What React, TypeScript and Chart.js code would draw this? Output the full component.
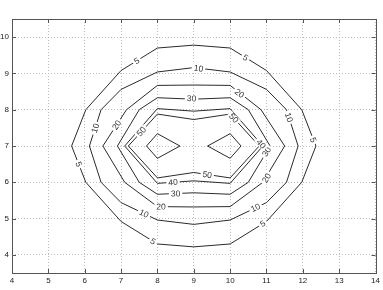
import React, { useEffect, useRef } from "react";
import { Chart, registerables } from "chart.js";

Chart.register(...registerables);

const xTicks = [4, 5, 6, 7, 8, 9, 10, 11, 12, 13, 14];
const yTicks = [4, 5, 6, 7, 8, 9, 10];

// contour polylines (closed)
const c5x = [8, 9, 10, 11, 11.97, 12.36, 11.97, 11, 10, 9, 8, 7, 6.03, 5.64, 6.03, 7, 8];
const c5y = [9.7, 9.78, 9.7, 9.08, 8, 7, 6, 4.92, 4.3, 4.22, 4.3, 4.92, 6, 7, 8, 9.08, 9.7];

const c10x = [8, 9, 10, 11, 11.55, 11.87, 11.55, 11, 10, 9, 8, 7, 6.45, 6.13, 6.45, 7, 8];
const c10y = [9.04, 9.16, 9.04, 8.56, 8, 7, 6, 5.44, 4.96, 4.84, 4.96, 5.44, 6, 7, 8, 8.56, 9.04];

const c20x = [8, 9, 10, 10.85, 11.5, 10.9, 10, 9, 8, 7.1, 6.5, 7.15, 8];
const c20y = [8.67, 8.68, 8.67, 8, 7, 6, 5.33, 5.32, 5.33, 6, 7, 8, 8.67];

const c30x = [8, 9, 10, 10.5, 11.1, 10.5, 10, 9, 8, 7.5, 6.9, 7.5, 8];
const c30y = [8.33, 8.29, 8.33, 8, 7, 6, 5.67, 5.71, 5.67, 6, 7, 8, 8.33];

const c40x = [8, 9, 10, 10.9, 10, 9, 8, 7.1, 8];
const c40y = [8.03, 7.96, 8.03, 7, 5.97, 6.04, 5.97, 7, 8.03];

const c50x = [8, 9, 10, 10.8, 10, 9, 8, 7.2, 8];
const c50y = [7.88, 7.73, 7.88, 7, 6.12, 6.27, 6.12, 7, 7.88];

const c60ax = [8, 8.62, 8, 7.7, 8];
const c60ay = [7.34, 7, 6.66, 7, 7.34];
const c60bx = [10, 10.3, 10, 9.38, 10];
const c60by = [7.34, 7, 6.66, 7, 7.34];

const levels = [5, 10, 20, 30, 40, 50, 60, 60];
const contoursX = [c5x, c10x, c20x, c30x, c40x, c50x, c60ax, c60bx];
const contoursY = [c5y, c10y, c20y, c30y, c40y, c50y, c60ay, c60by];

// inline labels: contour index, position
const labelIdx = [0, 0, 0, 0, 0, 0, 1, 1, 1, 1, 1, 2, 2, 2, 2, 3, 3, 3, 4, 4, 5, 5, 5];
const labelX = [7.43, 10.42, 12.29, 5.835, 7.88, 10.9, 9.13, 11.62, 6.29, 7.63, 10.7, 10.26, 6.88, 11.0, 8.1, 8.94, 11.0, 8.5, 8.43, 10.85, 7.56, 10.1, 9.37];
const labelY = [9.35, 9.44, 7.17, 6.5, 4.37, 4.86, 9.14, 7.79, 7.49, 5.14, 5.3, 8.45, 7.58, 6.12, 5.33, 8.31, 6.84, 5.69, 6.0, 7.06, 7.4, 7.77, 6.21];

const LINE = "#2a2a2a";
const FONT = '8.5px "Liberation Sans", Arial, Helvetica, sans-serif';

const contourPlugin = {
  id: "contourDeco",
  afterDatasetsDraw(chart: any) {
    const { ctx, chartArea, scales } = chart;
    const xs = scales.x;
    const ys = scales.y;
    ctx.save();
    ctx.font = FONT;
    ctx.textAlign = "center";
    ctx.textBaseline = "middle";
    for (let i = 0; i < labelIdx.length; i++) {
      const ci = labelIdx[i];
      const cx = contoursX[ci];
      const cy = contoursY[ci];
      const px = xs.getPixelForValue(labelX[i]);
      const py = ys.getPixelForValue(labelY[i]);
      let best = Infinity;
      let ang = 0;
      for (let k = 0; k < cx.length - 1; k++) {
        const ax = xs.getPixelForValue(cx[k]);
        const ay = ys.getPixelForValue(cy[k]);
        const bx = xs.getPixelForValue(cx[k + 1]);
        const by = ys.getPixelForValue(cy[k + 1]);
        const dx = bx - ax;
        const dy = by - ay;
        const l2 = dx * dx + dy * dy || 1;
        let t = ((px - ax) * dx + (py - ay) * dy) / l2;
        t = Math.max(0, Math.min(1, t));
        const qx = ax + t * dx - px;
        const qy = ay + t * dy - py;
        const d = qx * qx + qy * qy;
        if (d < best) {
          best = d;
          ang = Math.atan2(dy, dx);
        }
      }
      if (ang > Math.PI / 2) ang -= Math.PI;
      if (ang < -Math.PI / 2) ang += Math.PI;
      const txt = String(levels[ci]);
      const w = ctx.measureText(txt).width;
      ctx.save();
      ctx.translate(px, py);
      ctx.rotate(ang);
      ctx.fillStyle = "#ffffff";
      ctx.fillRect(-w / 2 - 2, -3.5, w + 4, 7);
      ctx.fillStyle = "#333";
      ctx.fillText(txt, 0, 0.5);
      ctx.restore();
    }
    // frame
    const { left, right, top, bottom } = chartArea;
    ctx.strokeStyle = "#555";
    ctx.lineWidth = 1;
    ctx.strokeRect(Math.round(left) + 0.5, Math.round(top) + 0.5, Math.round(right - left), Math.round(bottom - top));
    // inward ticks
    ctx.beginPath();
    const tl = 4;
    xTicks.forEach((v) => {
      const x = Math.round(xs.getPixelForValue(v)) + 0.5;
      ctx.moveTo(x, bottom);
      ctx.lineTo(x, bottom - tl);
      ctx.moveTo(x, top);
      ctx.lineTo(x, top + tl);
    });
    yTicks.forEach((v) => {
      const y = Math.round(ys.getPixelForValue(v)) + 0.5;
      ctx.moveTo(left, y);
      ctx.lineTo(left + tl, y);
      ctx.moveTo(right, y);
      ctx.lineTo(right - tl, y);
    });
    ctx.stroke();
    ctx.restore();
  },
};

export default function App() {
  const ref = useRef<HTMLCanvasElement | null>(null);

  useEffect(() => {
    if (!ref.current) return;
    const datasets = contoursX.map((cx, i) => ({
      label: String(levels[i]),
      data: cx.map((x, k) => ({ x, y: contoursY[i][k] })),
      showLine: true,
      borderColor: LINE,
      borderWidth: 1,
      pointRadius: 0,
      pointHoverRadius: 0,
      fill: false,
      tension: 0,
    }));
    const tickFont = { family: '"Liberation Sans", Arial, Helvetica, sans-serif', size: 8 };
    const chart = new Chart(ref.current, {
      type: "scatter",
      data: { datasets },
      plugins: [contourPlugin],
      options: {
        animation: false,
        responsive: false,
        maintainAspectRatio: false,
        events: [],
        layout: { padding: { top: 19, right: 7, left: 0, bottom: 0 } },
        plugins: { legend: { display: false }, tooltip: { enabled: false }, title: { display: false } },
        scales: {
          x: {
            type: "linear",
            min: 4,
            max: 14,
            afterBuildTicks: (s: any) => {
              s.ticks = xTicks.map((v) => ({ value: v }));
            },
            afterFit: (s: any) => {
              s.height = 17;
            },
            ticks: { color: "#222", font: tickFont, padding: 3, maxRotation: 0, autoSkip: false, callback: (v: any) => String(v) },
            grid: { color: "#bdbdbd", lineWidth: 1, drawTicks: false },
            border: { display: false, dash: [1, 2] },
          },
          y: {
            type: "linear",
            min: 3.5,
            max: 10.5,
            afterBuildTicks: (s: any) => {
              s.ticks = yTicks.map((v) => ({ value: v }));
            },
            afterFit: (s: any) => {
              s.width = 12;
            },
            ticks: { color: "#222", font: tickFont, padding: 3, autoSkip: false, callback: (v: any) => String(v) },
            grid: { color: "#bdbdbd", lineWidth: 1, drawTicks: false },
            border: { display: false, dash: [1, 2] },
          },
        },
      },
    });
    return () => chart.destroy();
  }, []);

  return (
    <div style={{ position: "fixed", left: 0, top: 0, width: 383, height: 290, background: "#fff" }}>
      <canvas ref={ref} width={383} height={290} style={{ display: "block", width: 383, height: 290 }} />
    </div>
  );
}
